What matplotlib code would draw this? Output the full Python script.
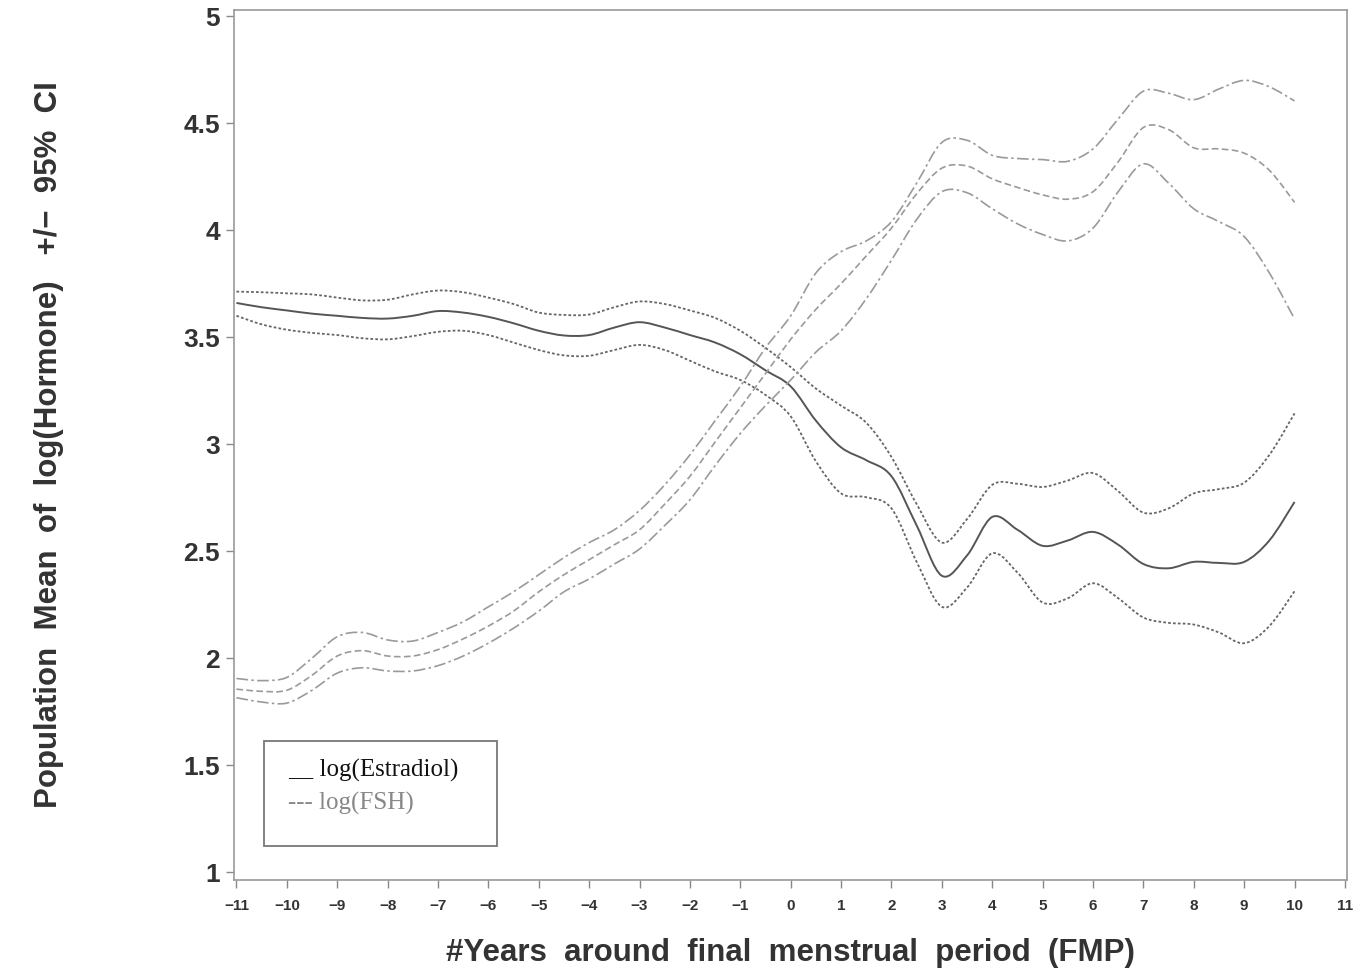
import matplotlib
matplotlib.use("Agg")
import matplotlib.pyplot as plt
from matplotlib.patches import Rectangle, PathPatch
from matplotlib.path import Path

# years around FMP, half-year steps
years = [-11, -10.5, -10, -9.5, -9, -8.5, -8, -7.5, -7, -6.5, -6, -5.5, -5, -4.5,
         -4, -3.5, -3, -2.5, -2, -1.5, -1, -0.5, 0, 0.5, 1, 1.5, 2, 2.5, 3, 3.5,
         4, 4.5, 5, 5.5, 6, 6.5, 7, 7.5, 8, 8.5, 9, 9.5, 10]

# log(Estradiol): mean, upper and lower 95% CI
e2_mean = [3.66, 3.64, 3.625, 3.61, 3.60, 3.59, 3.587, 3.60, 3.622, 3.615, 3.595, 3.565,
           3.53, 3.508, 3.51, 3.545, 3.57, 3.545, 3.51, 3.475, 3.42, 3.345, 3.27, 3.11,
           2.985, 2.925, 2.85, 2.62, 2.385, 2.48, 2.66, 2.60, 2.525, 2.55, 2.59, 2.53,
           2.44, 2.42, 2.45, 2.445, 2.45, 2.55, 2.73]
e2_upper = [3.713, 3.71, 3.705, 3.70, 3.685, 3.672, 3.675, 3.70, 3.718, 3.71, 3.685, 3.655,
            3.615, 3.604, 3.606, 3.64, 3.667, 3.655, 3.625, 3.59, 3.53, 3.45, 3.36, 3.26,
            3.18, 3.10, 2.94, 2.72, 2.54, 2.65, 2.81, 2.815, 2.80, 2.83, 2.865, 2.78,
            2.68, 2.70, 2.77, 2.79, 2.82, 2.95, 3.144]
e2_lower = [3.60, 3.56, 3.535, 3.52, 3.51, 3.495, 3.49, 3.505, 3.525, 3.53, 3.51, 3.475,
            3.44, 3.415, 3.413, 3.44, 3.464, 3.44, 3.39, 3.34, 3.30, 3.23, 3.13, 2.92,
            2.77, 2.752, 2.70, 2.45, 2.24, 2.33, 2.49, 2.40, 2.26, 2.28, 2.35, 2.28,
            2.19, 2.165, 2.157, 2.12, 2.07, 2.15, 2.313]

# log(FSH): mean, upper and lower 95% CI
fsh_mean = [1.855, 1.845, 1.85, 1.92, 2.01, 2.035, 2.01, 2.01, 2.04, 2.09, 2.15, 2.22,
            2.31, 2.39, 2.46, 2.53, 2.60, 2.72, 2.85, 3.01, 3.17, 3.33, 3.49, 3.63,
            3.75, 3.88, 4.01, 4.17, 4.29, 4.30, 4.24, 4.20, 4.165, 4.145, 4.18, 4.32,
            4.48, 4.47, 4.385, 4.38, 4.36, 4.28, 4.13]
fsh_upper = [1.905, 1.895, 1.91, 2.00, 2.10, 2.12, 2.085, 2.08, 2.12, 2.17, 2.24, 2.31,
             2.39, 2.47, 2.54, 2.60, 2.69, 2.81, 2.95, 3.11, 3.27, 3.45, 3.60, 3.80,
             3.90, 3.95, 4.04, 4.22, 4.41, 4.42, 4.35, 4.335, 4.33, 4.322, 4.38, 4.52,
             4.65, 4.64, 4.61, 4.66, 4.70, 4.67, 4.604]
fsh_lower = [1.815, 1.795, 1.79, 1.85, 1.93, 1.955, 1.94, 1.94, 1.965, 2.01, 2.07, 2.14,
             2.22, 2.31, 2.37, 2.44, 2.51, 2.62, 2.74, 2.90, 3.05, 3.18, 3.30, 3.43,
             3.53, 3.68, 3.86, 4.05, 4.18, 4.175, 4.10, 4.03, 3.98, 3.95, 4.01, 4.18,
             4.31, 4.22, 4.10, 4.04, 3.97, 3.80, 3.585]

x_ticks = list(range(-11, 12))
y_ticks = [1, 1.5, 2, 2.5, 3, 3.5, 4, 4.5, 5]
y_tick_labels = ["1", "1.5", "2", "2.5", "3", "3.5", "4", "4.5", "5"]

SANS = ["Liberation Sans", "DejaVu Sans"]


def smooth_curve(ax, xs, ys, **kw):
    # bezier path through the read points (catmull-rom style handles)
    n = len(xs)
    verts = [(xs[0], ys[0])]
    codes = [Path.MOVETO]
    for i in range(n - 1):
        x0, y0 = xs[max(i - 1, 0)], ys[max(i - 1, 0)]
        x1, y1 = xs[i], ys[i]
        x2, y2 = xs[i + 1], ys[i + 1]
        x3, y3 = xs[min(i + 2, n - 1)], ys[min(i + 2, n - 1)]
        verts += [(x1 + (x2 - x0) / 6, y1 + (y2 - y0) / 6),
                  (x2 - (x3 - x1) / 6, y2 - (y3 - y1) / 6),
                  (x2, y2)]
        codes += [Path.CURVE4] * 3
    ax.add_patch(PathPatch(Path(verts, codes), fill=False, **kw))


fig = plt.figure(figsize=(13.68, 9.8), dpi=100)
ax = fig.add_axes([0.171, 0.102, 0.814, 0.888])

# estradiol
smooth_curve(ax, years, e2_mean, edgecolor="#555555", lw=1.4, ls="-")
smooth_curve(ax, years, e2_upper, edgecolor="#666666", lw=1.3, ls=(0, (1.5, 1.2)))
smooth_curve(ax, years, e2_lower, edgecolor="#666666", lw=1.3, ls=(0, (1.5, 1.2)))

# FSH
smooth_curve(ax, years, fsh_mean, edgecolor="#9a9a9a", lw=1.2, ls=(0, (4, 2)))
smooth_curve(ax, years, fsh_upper, edgecolor="#9a9a9a", lw=1.2, ls=(0, (7, 2, 1.5, 2)))
smooth_curve(ax, years, fsh_lower, edgecolor="#9a9a9a", lw=1.2, ls=(0, (7, 2, 1.5, 2)))

ax.set_xlim(-11.05, 11.05)
ax.set_ylim(0.963, 5.03)
ax.set_xticks(x_ticks)
ax.set_xticklabels([("\u2212" + str(-v)) if v < 0 else str(v) for v in x_ticks],
                   fontsize=11, fontweight="bold", color="#333333", family=SANS)
ax.set_yticks(y_ticks)
ax.set_yticklabels(y_tick_labels, fontsize=19, fontweight="bold", color="#333333",
                   family=SANS)
ax.tick_params(axis="both", direction="out", length=6, width=1, color="#888888")
ax.tick_params(axis="x", pad=8)
ax.tick_params(axis="y", pad=4)
for s in ax.spines.values():
    s.set_color("#999999")
    s.set_linewidth(1.2)

ax.set_xlabel("#Years  around  final  menstrual  period  (FMP)", fontsize=22.5,
              fontweight="bold", color="#333333", labelpad=18, family=SANS)
ax.set_ylabel("Population  Mean  of  log(Hormone)   +/\u2212  95%  CI", fontsize=22.5,
              fontweight="bold", color="#333333", labelpad=86, family=SANS)

# legend box drawn by hand, like the original
ax.add_patch(Rectangle((0.027, 0.039), 0.209, 0.121, transform=ax.transAxes,
                       fill=False, edgecolor="#777777", lw=1.3))
ax.text(0.0485, 0.126, "__ log(Estradiol)", transform=ax.transAxes, fontsize=18,
        family="Liberation Serif", color="#111111", va="center")
ax.text(0.0485, 0.0885, "--- log(FSH)", transform=ax.transAxes, fontsize=18,
        family="Liberation Serif", color="#888888", va="center")

fig.savefig("out.png", dpi=100)
